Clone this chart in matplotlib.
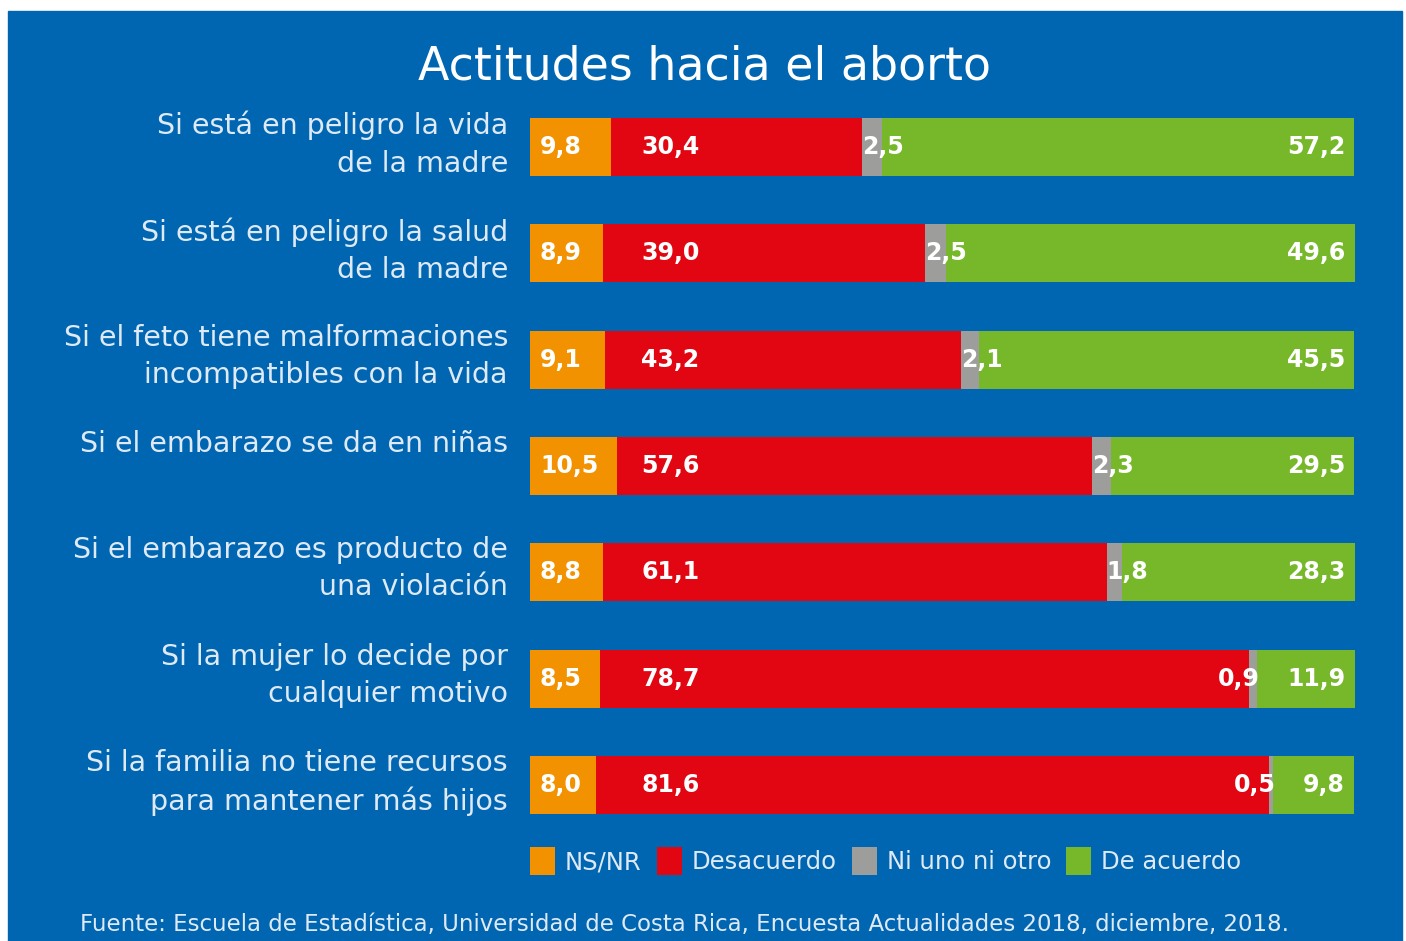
import matplotlib.pyplot as plt
from matplotlib.patches import Patch

# datos
categorias = [
    "Si está en peligro la vida\nde la madre",
    "Si está en peligro la salud\nde la madre",
    "Si el feto tiene malformaciones\nincompatibles con la vida",
    "Si el embarazo se da en niñas",
    "Si el embarazo es producto de\nuna violación",
    "Si la mujer lo decide por\ncualquier motivo",
    "Si la familia no tiene recursos\npara mantener más hijos",
]
ns_nr = [9.8, 8.9, 9.1, 10.5, 8.8, 8.5, 8.0]
desacuerdo = [30.4, 39.0, 43.2, 57.6, 61.1, 78.7, 81.6]
ni_uno = [2.5, 2.5, 2.1, 2.3, 1.8, 0.9, 0.5]
de_acuerdo = [57.2, 49.6, 45.5, 29.5, 28.3, 11.9, 9.8]
series_nombres = ["NS/NR", "Desacuerdo", "Ni uno ni otro", "De acuerdo"]

AZUL = "#0066b1"
NARANJA = "#f39200"
ROJO = "#e20613"
GRIS = "#9d9d9c"
VERDE = "#76b82a"
TEXTO = "#dfeaf6"

plt.rcParams["font.family"] = ["DejaVu Sans"]

W, H = 1406, 941
fig = plt.figure(figsize=(W / 100, H / 100), dpi=100)
fig.patch.set_facecolor("white")
# fondo azul
fig.add_artist(plt.Rectangle((8 / W, 0), (1402 - 8) / W, (H - 11) / H,
                             transform=fig.transFigure, color=AZUL, zorder=0))

# ejes: x 0..100 -> px 530..1355, filas a 147 + i*106.3
x0, x1 = 530, 1355
px_fila = 106.33
top_px, bot_px = 100, 830
ax = fig.add_axes([x0 / W, 1 - bot_px / H, (x1 - x0) / W, (bot_px - top_px) / H])
ax.set_facecolor("none")
ax.set_xlim(0, 100)
ax.set_ylim(6 + (bot_px - 785) / px_fila, -(147 - top_px) / px_fila)
ax.axis("off")

alto = 0.545
n = len(categorias)
filas = list(range(n))
izq = [0.0] * n
series = [ns_nr, desacuerdo, ni_uno, de_acuerdo]
colores = [NARANJA, ROJO, GRIS, VERDE]
for vals, col in zip(series, colores):
    ax.barh(filas, vals, left=izq, height=alto, color=col, edgecolor="none")
    izq = [a + b for a, b in zip(izq, vals)]

def fmt(v):
    return f"{v:.1f}".replace(".", ",")

kw = dict(color="white", fontsize=17, fontweight="bold", va="center")
for i in filas:
    ax.text(1.2, i, fmt(ns_nr[i]), ha="left", **kw)
    ax.text(13.5, i, fmt(desacuerdo[i]), ha="left", **kw)
    g0 = ns_nr[i] + desacuerdo[i]
    if g0 > 80:
        ax.text(g0 + ni_uno[i] + 0.3, i, fmt(ni_uno[i]), ha="right", **kw)
    else:
        ax.text(g0, i, fmt(ni_uno[i]), ha="left", **kw)
    ax.text(98.8, i, fmt(de_acuerdo[i]), ha="right", **kw)
    # etiqueta de categoria
    ax.text(-(x0 - 508) / 8.25, i - 0.34, categorias[i], ha="right", va="top",
            color=TEXTO, fontsize=20.5, linespacing=1.42, clip_on=False)

fig.text(704 / W, 1 - 67 / H, "Actitudes hacia el aborto", ha="center",
         va="center", color="white", fontsize=33)

handles = [Patch(facecolor=c, edgecolor="none") for c in colores]
fig.legend(handles, series_nombres, loc="center left",
           bbox_to_anchor=(530 / W, 1 - 861 / H), ncol=4, frameon=False,
           borderpad=0, borderaxespad=0,
           handlelength=1.03, handleheight=1.36, handletextpad=0.41,
           columnspacing=0.62, labelcolor=TEXTO,
           prop={"size": 17.5})

fig.text(80 / W, 1 - 925 / H,
         "Fuente: Escuela de Estadística, Universidad de Costa Rica, Encuesta Actualidades 2018, diciembre, 2018.",
         ha="left", va="center", color=TEXTO, fontsize=16.5)

fig.savefig("out.png", dpi=100, facecolor=fig.get_facecolor())
